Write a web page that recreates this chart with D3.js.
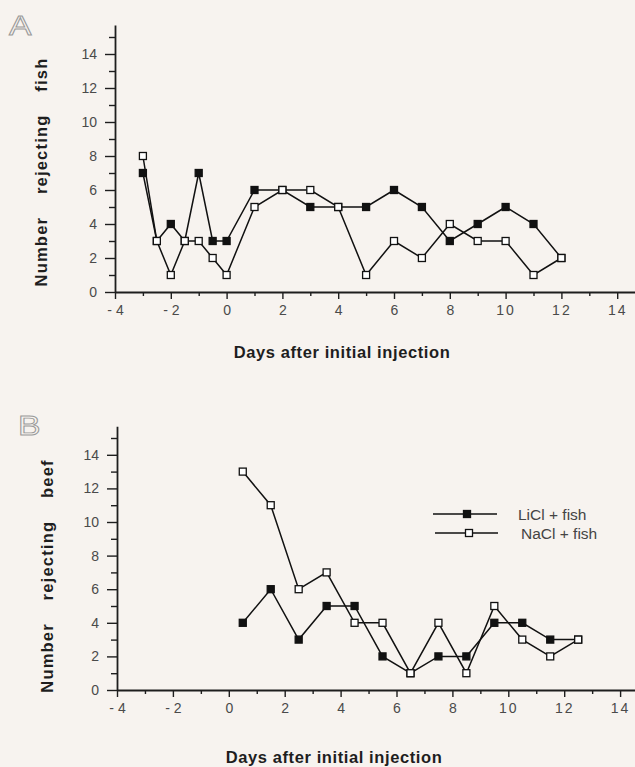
<!DOCTYPE html>
<html>
<head>
<meta charset="utf-8">
<script src="https://cdn.jsdelivr.net/npm/d3@7"></script>
<style>
    html, body { margin: 0; padding: 0; background: #f7f3ef; }
    svg { display: block; font-family: "Liberation Sans", Arial, sans-serif; }
</style>
</head>
<body>
<div id="chart"></div>
<script>
const fishDays = [-3, -2.5, -2, -1.5, -1, -0.5, 0, 1, 2, 3, 4, 5, 6, 7, 8, 9, 10, 11, 12];
const fishLiCl = [7, 3, 4, 3, 7, 3, 3, 6, 6, 5, 5, 5, 6, 5, 3, 4, 5, 4, 2];
const fishNaCl = [8, 3, 1, 3, 3, 2, 1, 5, 6, 6, 5, 1, 3, 2, 4, 3, 3, 1, 2];

const beefDays = [0.5, 1.5, 2.5, 3.5, 4.5, 5.5, 6.5, 7.5, 8.5, 9.5, 10.5, 11.5, 12.5];
const beefLiCl = [4, 6, 3, 5, 5, 2, 1, 2, 2, 4, 4, 3, 3];
const beefNaCl = [13, 11, 6, 7, 4, 4, 1, 4, 1, 5, 3, 2, 3];

const xMajor = [-4, -2, 0, 2, 4, 6, 8, 10, 12, 14];
const xMinor = [-3, -1, 1, 3, 5, 7, 9, 11, 13];
const yMajor = [0, 2, 4, 6, 8, 10, 12, 14];
const yMinor = [1, 3, 5, 7, 9, 11, 13, 15];

const seriesNames = ["LiCl + fish", "NaCl + fish"];
const xTitle = "Days after initial injection";

const svg = d3.select("#chart")
    .append("svg")
    .attr("width", 635)
    .attr("height", 767);

function drawPanel(opts) {
    const x = d3.scaleLinear().domain([-4, 14.65]).range([opts.left, opts.left + 18.65 * opts.xUnit]);
    const y = d3.scaleLinear().domain([0, 15.7]).range([opts.bottom, opts.bottom - 15.7 * opts.yUnit]);

    const g = svg.append("g");

    // x axis, major + minor ticks
    const xAx = g.append("g")
        .attr("transform", `translate(0,${opts.bottom})`)
        .call(d3.axisBottom(x).tickValues(xMajor).tickSize(7).tickSizeOuter(0).tickPadding(6)
            .tickFormat(d => d < 0 ? "- " + (-d) : d));
    g.append("g")
        .attr("transform", `translate(0,${opts.bottom})`)
        .call(d3.axisBottom(x).tickValues(xMinor).tickSize(4).tickFormat(""))
        .call(a => a.select(".domain").remove());

    g.append("g")
        .attr("transform", `translate(${opts.left},0)`)
        .call(d3.axisLeft(y).tickValues(yMajor).tickSize(10).tickSizeOuter(0).tickPadding(8));
    g.append("g")
        .attr("transform", `translate(${opts.left},0)`)
        .call(d3.axisLeft(y).tickValues(yMinor).tickSize(6).tickFormat(""))
        .call(a => a.select(".domain").remove());

    g.selectAll(".domain").attr("stroke", "#1e1e1e").attr("stroke-width", 1.8);
    g.selectAll(".tick line").attr("stroke", "#1e1e1e").attr("stroke-width", 1.4);
    g.selectAll(".tick text")
        .attr("fill", "#4a4a4a")
        .attr("font-size", 14)
        .attr("font-family", "'Liberation Sans', Arial, sans-serif");
    xAx.selectAll(".tick text").style("letter-spacing", d => d >= 10 ? "2px" : "0px");

    g.append("text")
        .attr("x", opts.titleX)
        .attr("y", opts.titleY)
        .attr("text-anchor", "middle")
        .attr("fill", "#1e1e1e")
        .style("font-size", "16.5px")
        .style("font-weight", "bold")
        .style("letter-spacing", "0.6px")
        .text(xTitle);

    g.append("text")
        .attr("transform", `translate(${opts.yTitleX},${opts.yTitleY}) rotate(-90)`)
        .attr("text-anchor", "middle")
        .attr("fill", "#1e1e1e")
        .style("font-size", "16.5px")
        .style("font-weight", "bold")
        .style("letter-spacing", "1.2px")
        .style("word-spacing", "17px")
        .text(opts.yTitle);

    g.append("text")
        .attr("transform", `translate(${opts.letterX},${opts.letterY}) scale(1.25,1)`)
        .attr("fill", "none")
        .attr("stroke", "#999")
        .attr("stroke-width", 0.9)
        .style("font-size", "27px")
        .text(opts.letter);

    const line = d3.line()
        .x(d => x(d[0]))
        .y(d => y(d[1]));

    const series = [
        { values: opts.licl, fill: "#111" },
        { values: opts.nacl, fill: "#fff" }
    ];

    series.forEach(s => {
        const pts = opts.days.map((d, i) => [d, s.values[i]]);
        g.append("path")
            .datum(pts)
            .attr("d", line)
            .attr("fill", "none")
            .attr("stroke", "#111")
            .attr("stroke-width", 1.5);
        g.append("g")
            .selectAll("rect")
            .data(pts)
            .join("rect")
            .attr("x", d => x(d[0]) - 3.5)
            .attr("y", d => y(d[1]) - 3.5)
            .attr("width", 7)
            .attr("height", 7)
            .attr("fill", s.fill)
            .attr("stroke", "#111")
            .attr("stroke-width", 1.3);
    });
}

drawPanel({
    left: 115, bottom: 292, xUnit: 27.9, yUnit: 17,
    days: fishDays, licl: fishLiCl, nacl: fishNaCl,
    titleX: 342, titleY: 358,
    yTitle: "Number rejecting fish", yTitleX: 47, yTitleY: 172,
    letter: "A", letterX: 9, letterY: 35
});

drawPanel({
    left: 117, bottom: 690, xUnit: 27.95, yUnit: 16.8,
    days: beefDays, licl: beefLiCl, nacl: beefNaCl,
    titleX: 334, titleY: 763,
    yTitle: "Number rejecting beef", yTitleX: 53, yTitleY: 576,
    letter: "B", letterX: 18, letterY: 435
});

// legend
const legend = svg.append("g");
const legendRows = [
    { name: seriesNames[0], y: 514, x1: 433, x2: 497, mx: 467, tx: 518, fill: "#111" },
    { name: seriesNames[1], y: 533, x1: 435, x2: 498, mx: 469, tx: 521, fill: "#fff" }
];
legend.selectAll("line")
    .data(legendRows)
    .join("line")
    .attr("x1", d => d.x1)
    .attr("x2", d => d.x2)
    .attr("y1", d => d.y)
    .attr("y2", d => d.y)
    .attr("stroke", "#111")
    .attr("stroke-width", 1.5);
legend.selectAll("rect")
    .data(legendRows)
    .join("rect")
    .attr("x", d => d.mx - 3.5)
    .attr("y", d => d.y - 3.5)
    .attr("width", 7)
    .attr("height", 7)
    .attr("fill", d => d.fill)
    .attr("stroke", "#111")
    .attr("stroke-width", 1.3);
legend.selectAll("text")
    .data(legendRows)
    .join("text")
    .attr("x", d => d.tx)
    .attr("y", d => d.y)
    .attr("dy", "0.36em")
    .attr("fill", "#444")
    .style("font-size", "15.5px")
    .text(d => d.name);
</script>
</body>
</html>
